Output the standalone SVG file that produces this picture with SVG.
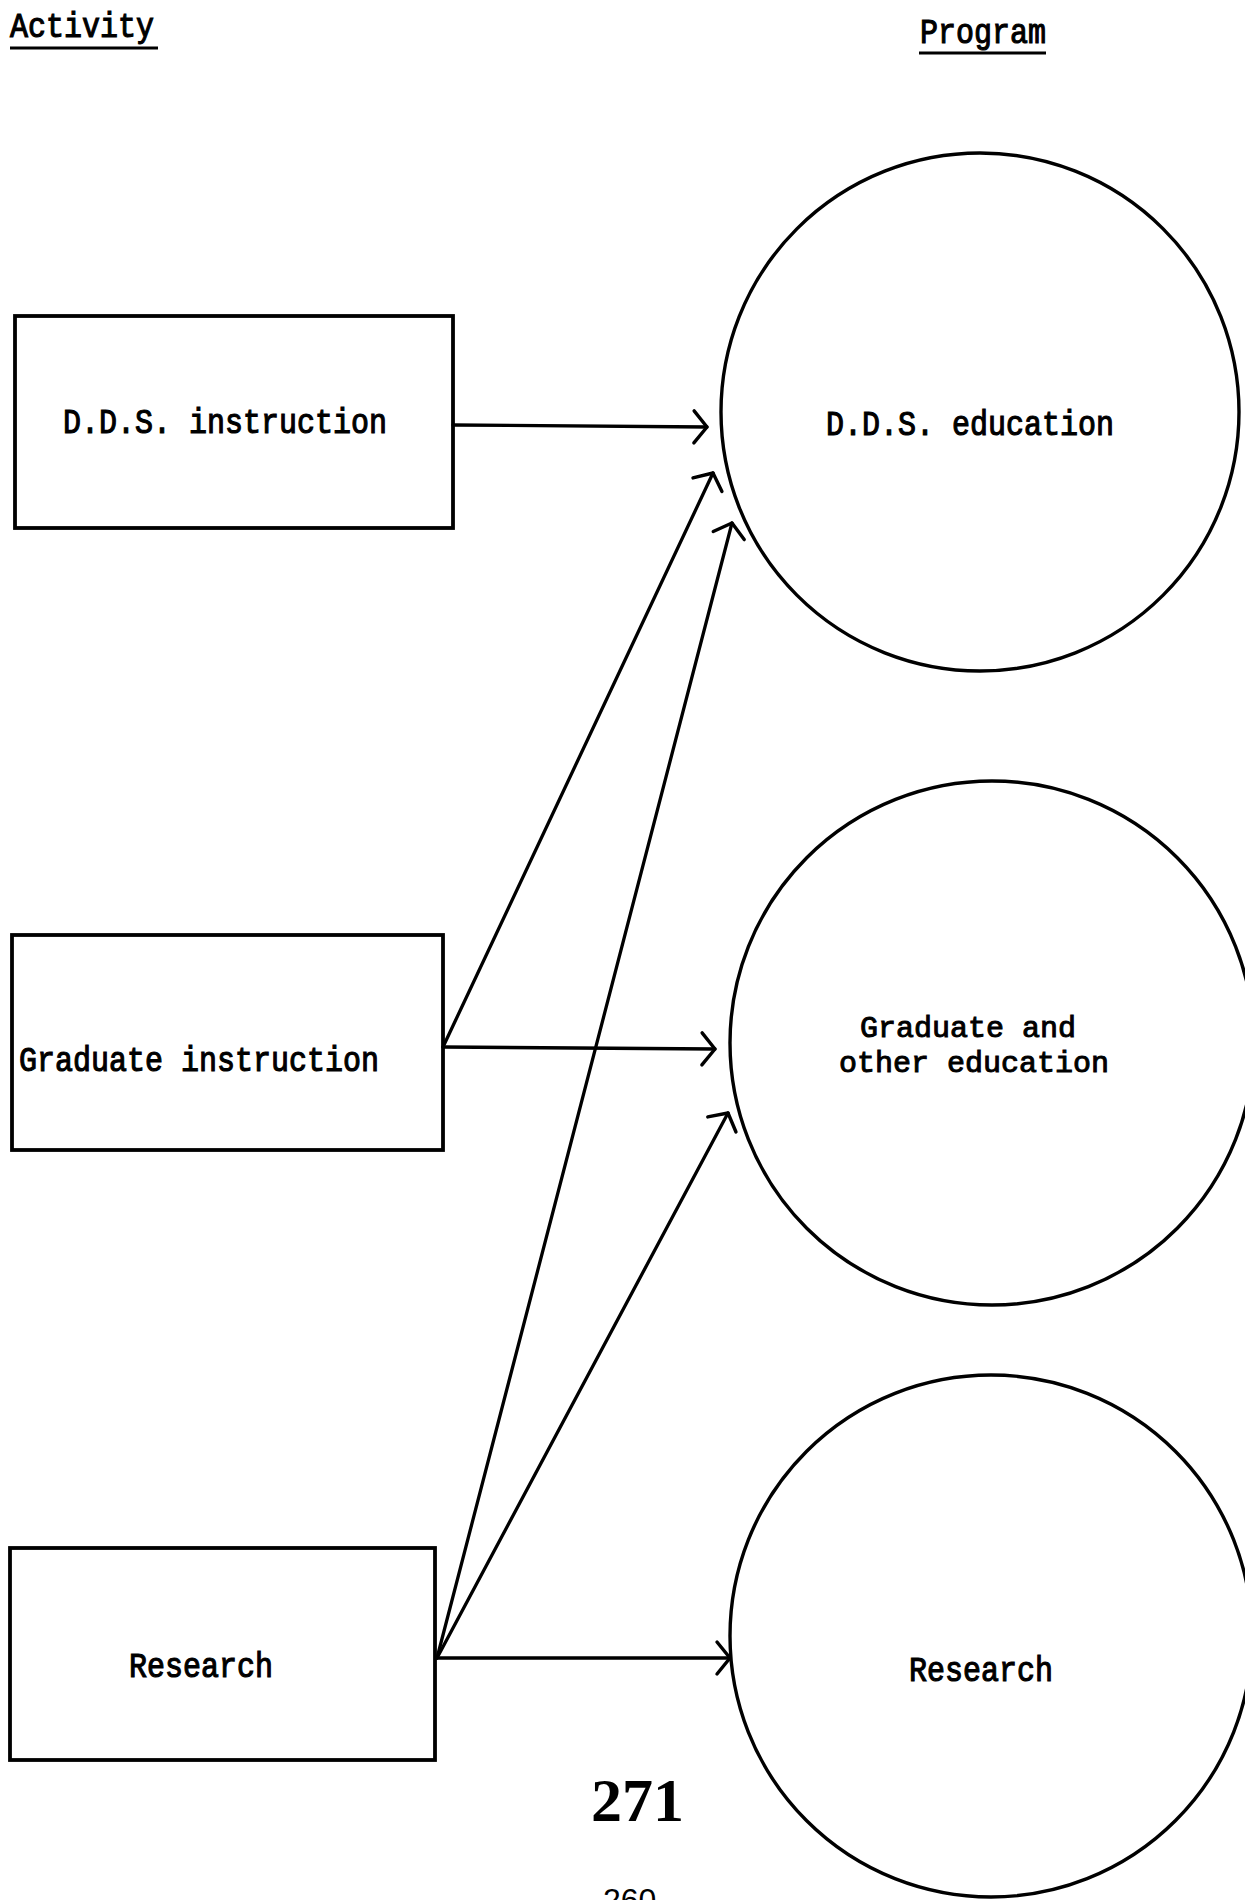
<svg xmlns="http://www.w3.org/2000/svg" width="1245" height="1900" viewBox="0 0 1245 1900">
  <style>
    .bg { fill: #ffffff; }
    .box { fill: none; stroke: #000; stroke-width: 3.8; }
    .circ { fill: none; stroke: #000; stroke-width: 3.4; }
    .edge { fill: none; stroke: #000; stroke-width: 3.3; stroke-linecap: round; }
    .ul { stroke: #000; stroke-width: 3; }
    .t { font-family: "Liberation Mono", "Courier New", monospace; font-weight: normal; font-size: 30px; fill: #000; stroke: #000; stroke-width: 1; }
    .pg { font-family: "Liberation Serif", "Times New Roman", serif; font-weight: bold; font-size: 62px; fill: #000; }
    .pn { font-family: "Liberation Sans", Arial, sans-serif; font-size: 32px; fill: #000; }
  </style>
  <defs>
    <marker id="arrow" markerUnits="userSpaceOnUse" viewBox="-20 -20 30 40" refX="0" refY="0" markerWidth="30" markerHeight="40" orient="auto" overflow="visible">
      <path d="M -13 -16 L 0 0 L -13 16" fill="none" stroke="#000" stroke-width="3.4" stroke-linecap="round" stroke-linejoin="round"/>
    </marker>
  </defs>
  <rect class="bg" x="0" y="0" width="1245" height="1900"/>

  <g id="headers">
    <text class="t" transform="translate(10,37) scale(1,1.15)">Activity</text>
    <line class="ul" x1="10" y1="48" x2="158" y2="48"/>
    <text class="t" transform="translate(920,43) scale(1,1.15)">Program</text>
    <line class="ul" x1="919" y1="53" x2="1046" y2="53"/>
  </g>

  <g id="connectors">
    <line class="edge" x1="453" y1="425" x2="707" y2="427" marker-end="url(#arrow)"/>
    <line class="edge" x1="443" y1="1047" x2="713" y2="473" marker-end="url(#arrow)"/>
    <line class="edge" x1="443" y1="1047" x2="715" y2="1049" marker-end="url(#arrow)"/>
    <line class="edge" x1="437" y1="1658" x2="732" y2="523" marker-end="url(#arrow)"/>
    <line class="edge" x1="437" y1="1658" x2="728" y2="1113" marker-end="url(#arrow)"/>
    <line class="edge" x1="437" y1="1658" x2="730" y2="1658" marker-end="url(#arrow)"/>
  </g>

  <g id="act-dds">
    <rect class="box" x="15" y="316" width="438" height="212"/>
    <text class="t" text-anchor="middle" transform="translate(225,433) scale(1,1.15)">D.D.S. instruction</text>
  </g>
  <g id="act-grad">
    <rect class="box" x="12" y="935" width="431" height="215"/>
    <text class="t" text-anchor="middle" transform="translate(199,1071) scale(1,1.15)">Graduate instruction</text>
  </g>
  <g id="act-research">
    <rect class="box" x="10" y="1548" width="425" height="212"/>
    <text class="t" text-anchor="middle" transform="translate(201,1677) scale(1,1.15)">Research</text>
  </g>

  <g id="prog-dds">
    <circle class="circ" cx="980" cy="412" r="259"/>
    <text class="t" text-anchor="middle" transform="translate(970,435) scale(1,1.15)">D.D.S. education</text>
  </g>
  <g id="prog-grad">
    <circle class="circ" cx="992" cy="1043" r="262"/>
    <text class="t" text-anchor="middle"><tspan x="968" y="1037">Graduate and</tspan><tspan x="974" y="1072">other education</tspan></text>
  </g>
  <g id="prog-research">
    <circle class="circ" cx="991" cy="1636" r="261"/>
    <text class="t" text-anchor="middle" transform="translate(981,1681) scale(1,1.15)">Research</text>
  </g>

  <g id="page-numbers">
    <text class="pg" x="591" y="1821">271</text>
    <text class="pn" x="603" y="1911">260</text>
  </g>
</svg>
